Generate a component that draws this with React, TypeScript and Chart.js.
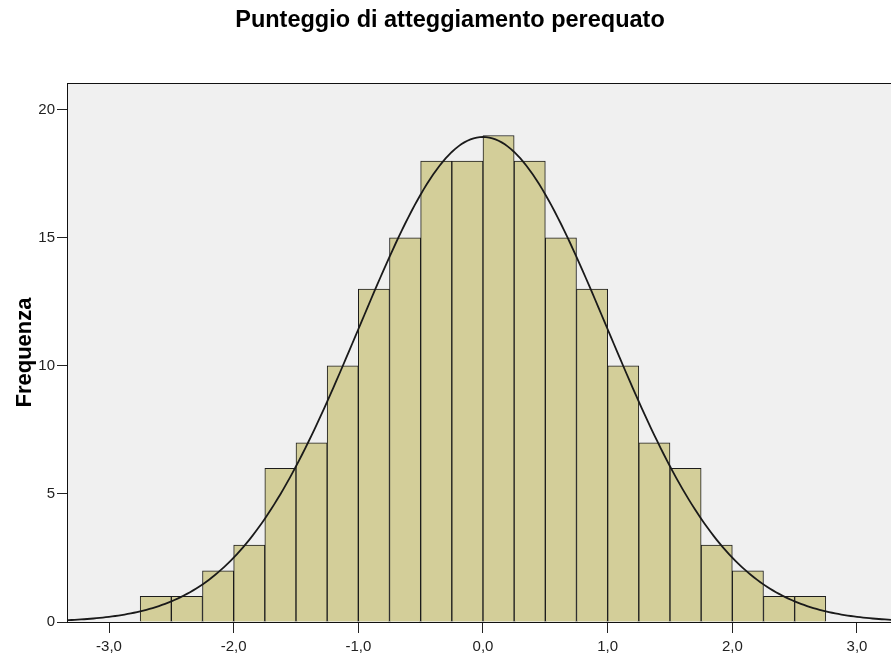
import React, { useEffect, useRef } from "react";
import { Chart, registerables } from "chart.js";

Chart.register(...registerables);

const title = "Punteggio di atteggiamento perequato";
const yAxisTitle = "Frequenza";
const binStarts = [-2.75, -2.5, -2.25, -2.0, -1.75, -1.5, -1.25, -1.0, -0.75, -0.5, -0.25, 0.0, 0.25, 0.5, 0.75, 1.0, 1.25, 1.5, 1.75, 2.0, 2.25, 2.5];
const counts = [1, 1, 2, 3, 6, 7, 10, 13, 15, 18, 18, 19, 18, 15, 13, 10, 7, 6, 3, 2, 1, 1];
const binWidth = 0.25;
const curveMean = 0.0;
const curveSd = 0.995;
const curveN = 189;
const xTicks = [-3, -2, -1, 0, 1, 2, 3];
const yTicks = [0, 5, 10, 15, 20];

const FONT = "'Liberation Sans', Arial, sans-serif";

export default function App() {
  const ref = useRef<HTMLCanvasElement>(null);

  useEffect(() => {
    const canvas = ref.current!;
    const barData = binStarts.map((s, i) => ({ x: s + binWidth / 2, y: counts[i] }));
    const curve: { x: number; y: number }[] = [];
    for (let x = -3.5; x <= 3.5001; x += 0.025) {
      const z = (x - curveMean) / curveSd;
      curve.push({ x, y: (curveN * binWidth) / (curveSd * Math.sqrt(2 * Math.PI)) * Math.exp(-0.5 * z * z) });
    }

    const frame = {
      id: "frame",
      beforeDraw(chart: any) {
        const { ctx, chartArea: a } = chart;
        ctx.save();
        ctx.fillStyle = "#f0f0f0";
        ctx.fillRect(a.left, a.top, a.right - a.left, a.bottom - a.top);
        ctx.restore();
      },
      afterDraw(chart: any) {
        const { ctx, chartArea: a } = chart;
        ctx.save();
        ctx.strokeStyle = "#111";
        ctx.lineWidth = 1;
        ctx.strokeRect(Math.round(a.left) + 0.5, Math.round(a.top) + 0.5, a.right - a.left + 2, a.bottom - a.top);
        ctx.fillStyle = "#000";
        ctx.font = `bold 23.5px ${FONT}`;
        ctx.textAlign = "center";
        ctx.textBaseline = "middle";
        ctx.fillText(title, 450, 21);
        ctx.restore();
      },
    };

    const chart = new Chart(canvas, {
      type: "bar",
      data: {
        datasets: [
          {
            type: "line",
            data: curve,
            borderColor: "#1a1a1a",
            borderWidth: 1.8,
            pointRadius: 0,
            tension: 0,
            fill: false,
            order: 0,
          } as any,
          {
            type: "bar",
            data: barData,
            backgroundColor: "rgb(211,206,153)",
            borderColor: "#1c1c1c",
            borderWidth: 1,
            barPercentage: 1,
            categoryPercentage: 1,
            grouped: false,
            order: 1,
          } as any,
        ],
      },
      options: {
        responsive: false,
        animation: false,
        layout: { padding: { left: 0, right: 0, top: 83, bottom: 0 } },
        plugins: {
          legend: { display: false },
          tooltip: { enabled: false },
          title: { display: false },
        },
        scales: {
          x: {
            type: "linear",
            min: -3.337,
            max: 3.273,
            offset: false,
            grid: { offset: false, drawOnChartArea: false, drawTicks: true, tickLength: 11, color: "#222" },
            border: { display: true, color: "#111" },
            afterBuildTicks: (s: any) => {
              s.ticks = xTicks.map((v) => ({ value: v }));
            },
            afterFit: (s: any) => {
              s.height = 36;
            },
            ticks: {
              autoSkip: false,
              maxRotation: 0,
              color: "#222",
              padding: 5,
              font: { family: FONT, size: 15 },
              callback: (v: any) => Number(v).toFixed(1).replace(".", ","),
            },
          },
          y: {
            type: "linear",
            min: 0,
            max: 21.05,
            grid: { drawOnChartArea: false, drawTicks: true, tickLength: 10, color: "#222" },
            border: { display: true, color: "#111" },
            afterBuildTicks: (s: any) => {
              s.ticks = yTicks.map((v) => ({ value: v }));
            },
            afterFit: (s: any) => {
              s.width = 67;
            },
            title: {
              display: true,
              text: yAxisTitle,
              color: "#000",
              padding: { top: 11.5, bottom: 0 },
              font: { family: FONT, size: 22, weight: "bold", lineHeight: 1.2 },
            },
            ticks: {
              color: "#222",
              padding: 2,
              font: { family: FONT, size: 15 },
            },
          },
        },
      },
      plugins: [frame],
    });
    return () => chart.destroy();
  }, []);

  return (
    <div style={{ position: "fixed", left: 0, top: 0, width: 891, height: 658, background: "#fff" }}>
      <canvas ref={ref} width={891} height={658} style={{ width: 891, height: 658, display: "block" }} />
    </div>
  );
}
